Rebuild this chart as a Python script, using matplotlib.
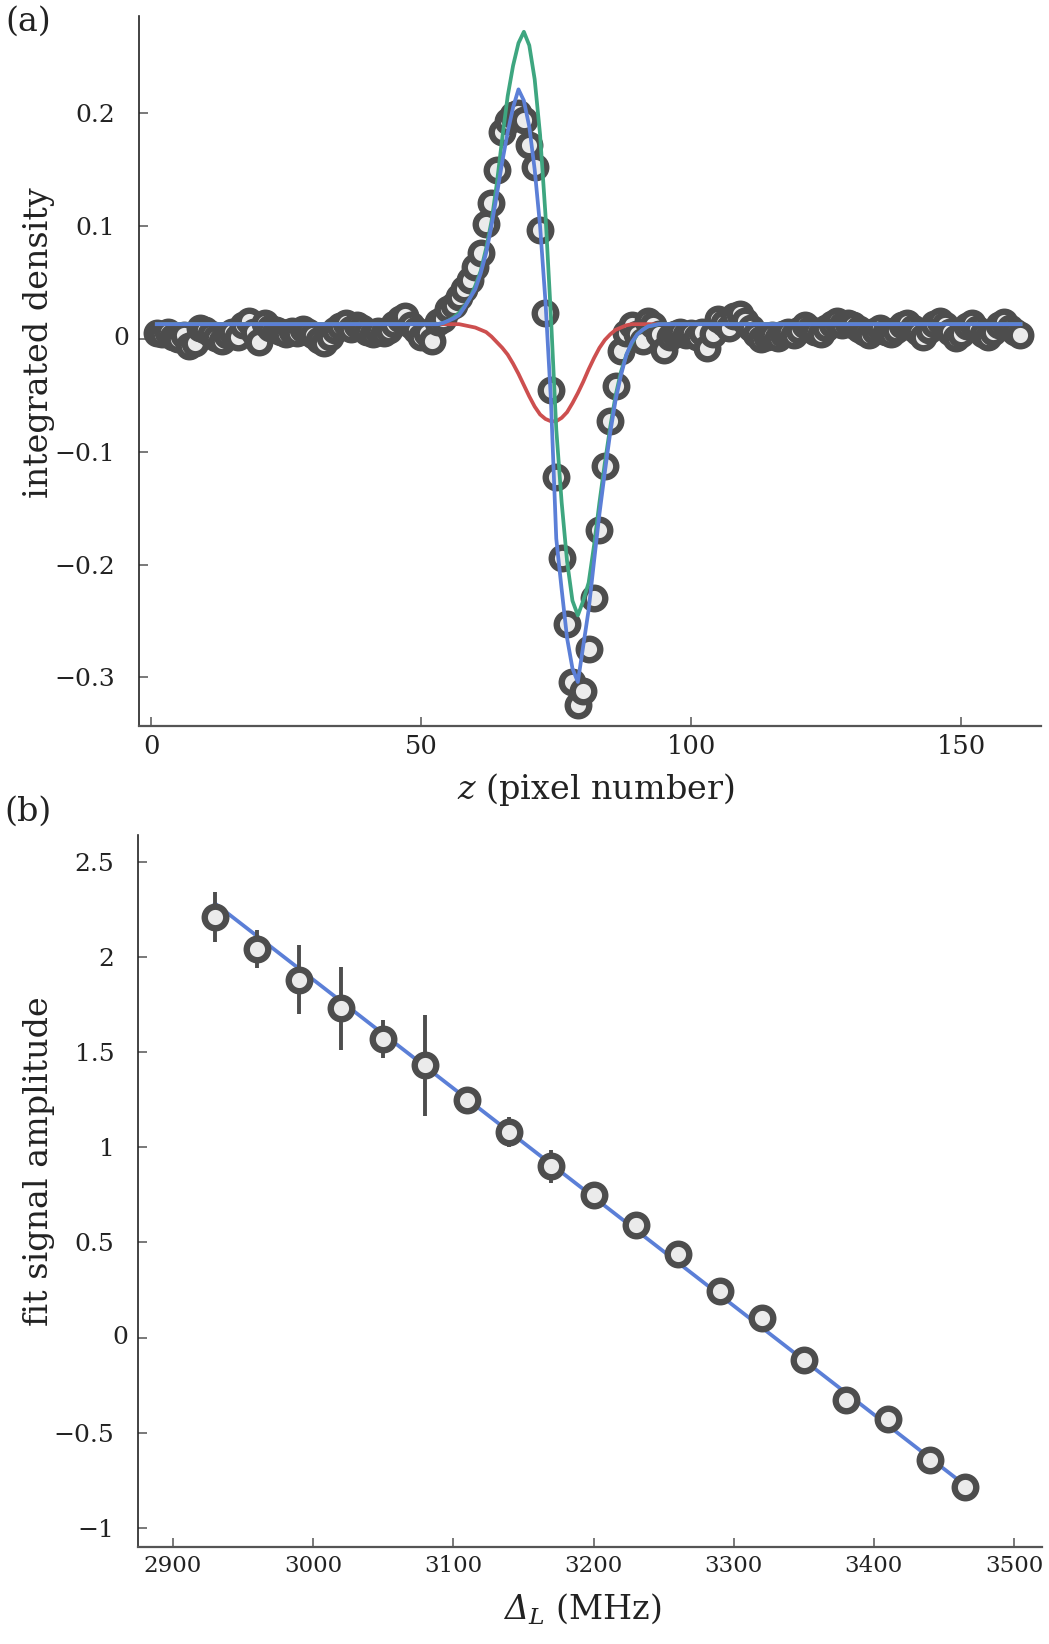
import numpy as np
import matplotlib
matplotlib.use("Agg")
import matplotlib.pyplot as plt
from matplotlib.ticker import FixedLocator, FuncFormatter

plt.rcParams['font.family'] = 'DejaVu Serif'
# italic serif for the math labels (Greek capitals go to 'rm', so make it italic too)
plt.rcParams['mathtext.fontset'] = 'custom'
plt.rcParams['mathtext.rm'] = 'DejaVu Serif:italic'
plt.rcParams['mathtext.it'] = 'DejaVu Serif:italic'

# ---- panel (a): integrated density vs pixel ----
z_pixel = np.arange(1, 162)
density = [
    0.005, 0.004, 0.006, 0.002, 0.000, 0.003, -0.006, -0.004, 0.010, 0.008,
    0.004, 0.001, -0.002, 0.003, 0.006, 0.002, 0.012, 0.016, 0.006, -0.003,
    0.014, 0.010, 0.008, 0.006, 0.004, 0.007, 0.005, 0.009, 0.006, 0.003,
    -0.001, -0.004, 0.002, 0.008, 0.011, 0.014, 0.009, 0.012, 0.010, 0.006,
    0.004, 0.007, 0.005, 0.008, 0.013, 0.018, 0.020, 0.012, 0.008, 0.002,
    0.005, -0.002, 0.015, 0.018, 0.026, 0.030, 0.037, 0.044, 0.052, 0.064,
    0.076, 0.102, 0.120, 0.150, 0.183, 0.193, 0.198, 0.200, 0.194, 0.172,
    0.152, 0.096, 0.023, -0.045, -0.122, -0.194, -0.253, -0.304, -0.324, -0.312,
    -0.275, -0.230, -0.169, -0.113, -0.073, -0.042, -0.011, 0.005, 0.012, 0.004,
    -0.002, 0.016, 0.012, 0.004, -0.010, 0.002, 0.004, 0.006, 0.003, 0.005,
    0.002, 0.006, -0.008, 0.004, 0.018, 0.014, 0.010, 0.020, 0.022, 0.016,
    0.010, 0.004, 0.000, 0.002, 0.003, 0.001, 0.004, 0.006, 0.003, 0.008,
    0.012, 0.009, 0.006, 0.004, 0.010, 0.013, 0.016, 0.012, 0.014, 0.012,
    0.009, 0.006, 0.003, 0.007, 0.010, 0.006, 0.004, 0.008, 0.012, 0.014,
    0.010, 0.006, 0.002, 0.008, 0.013, 0.016, 0.012, 0.006, 0.001, 0.004,
    0.011, 0.014, 0.009, 0.004, 0.002, 0.006, 0.012, 0.015, 0.010, 0.006, 0.003,
]

# fit curves: flat baseline outside z = 50..95
curve_z_start, curve_z_end = 1, 161
baseline = 0.013
curve_z = np.arange(50, 96)
fit_red = [
    0.013, 0.013, 0.013, 0.013, 0.013, 0.013, 0.013, 0.013, 0.012, 0.011,
    0.010, 0.008, 0.006, 0.002, -0.003, -0.008, -0.014, -0.022, -0.031, -0.041,
    -0.051, -0.060, -0.067, -0.071, -0.073, -0.073, -0.070, -0.065, -0.057, -0.048,
    -0.038, -0.027, -0.017, -0.008, -0.001, 0.004, 0.008, 0.010, 0.012, 0.013,
    0.013, 0.013, 0.013, 0.013, 0.013, 0.013,
]
fit_green = [
    0.013, 0.013, 0.013, 0.013, 0.014, 0.016, 0.019, 0.023, 0.029, 0.036,
    0.047, 0.060, 0.080, 0.104, 0.138, 0.178, 0.215, 0.242, 0.262, 0.272,
    0.260, 0.230, 0.181, 0.110, 0.021, -0.080, -0.145, -0.197, -0.232, -0.245,
    -0.232, -0.216, -0.183, -0.145, -0.110, -0.078, -0.050, -0.029, -0.014, -0.004,
    0.004, 0.008, 0.011, 0.012, 0.013, 0.013,
]
fit_blue = [
    0.013, 0.013, 0.013, 0.013, 0.014, 0.016, 0.018, 0.021, 0.028, 0.036,
    0.044, 0.058, 0.076, 0.100, 0.128, 0.157, 0.183, 0.205, 0.221, 0.211,
    0.188, 0.150, 0.100, 0.033, -0.053, -0.177, -0.222, -0.265, -0.292, -0.304,
    -0.272, -0.240, -0.197, -0.155, -0.118, -0.083, -0.054, -0.032, -0.014, -0.003,
    0.004, 0.008, 0.011, 0.012, 0.013, 0.013,
]

# ---- panel (b): fit amplitude vs detuning ----
detuning = [2930, 2960, 2990, 3020, 3050, 3080, 3110, 3140, 3170, 3200,
            3230, 3260, 3290, 3320, 3350, 3380, 3410, 3440, 3465]
amplitude = [2.21, 2.04, 1.88, 1.73, 1.57, 1.43, 1.25, 1.08, 0.90, 0.748,
             0.59, 0.44, 0.246, 0.104, -0.118, -0.33, -0.426, -0.645, -0.784]
amp_err = [0.13, 0.10, 0.18, 0.217, 0.10, 0.265, 0.03, 0.079, 0.086, 0.03,
           0.03, 0.03, 0.03, 0.03, 0.03, 0.03, 0.03, 0.03, 0.03]
line_x = [2930, 3465]
line_y = [2.28, -0.775]

c_red = '#cd4f4f'
c_green = '#3ea680'
c_blue = '#5b7fd7'
c_edge = '#4d4d4d'
c_face = '#ebebeb'
mk = dict(ms=15.5, mew=4.6, mec=c_edge, mfc=c_face)


def full_curve(vals):
    x = [curve_z_start] + list(curve_z) + [curve_z_end]
    y = [baseline] + list(vals) + [baseline]
    return x, y


def fmt(v, pos):
    if abs(v) < 1e-9:
        return ''
    return ('%g' % v).replace('-', '\u2212')


def style_axes(ax):
    for s in ['top', 'right']:
        ax.spines[s].set_visible(False)
    ax.spines['left'].set_color('#222222')
    ax.spines['left'].set_linewidth(1.2)
    ax.spines['bottom'].set_color('#555555')
    ax.spines['bottom'].set_linewidth(1.6)
    ax.tick_params(direction='in', length=6.5, width=1.1, color='#555555',
                   labelcolor='#222222')


W, H = 1049, 1644
fig = plt.figure(figsize=(W / 100, H / 100), dpi=100)

# panel (a)
ax1 = fig.add_axes([139 / W, 1 - 726 / H, 902 / W, 710 / H])
ax1.plot(z_pixel, density, 'o', zorder=2, **mk)
for vals, col in [(fit_red, c_red), (fit_green, c_green), (fit_blue, c_blue)]:
    cx, cy = full_curve(vals)
    ax1.plot(cx, cy, color=col, lw=2.7, zorder=3)
ax1.set_xlim(-2.3, 164.8)
ax1.set_ylim(-0.343, 0.286)
ax1.xaxis.set_major_locator(FixedLocator([0, 50, 100, 150]))
ax1.yaxis.set_major_locator(FixedLocator([-0.3, -0.2, -0.1, 0, 0.1, 0.2]))
ax1.yaxis.set_major_formatter(FuncFormatter(fmt))
style_axes(ax1)
ax1.tick_params(axis='y', labelsize=18, pad=17)
ax1.tick_params(axis='x', labelsize=18.5, pad=6)
ax1.text(-10 / 902, 0, '0', transform=ax1.get_yaxis_transform(),
         ha='right', va='center', fontsize=18, color='#222222')

# panel (b)
ax2 = fig.add_axes([138 / W, 1 - 1547 / H, 904 / W, 712 / H])
ax2.plot(line_x, line_y, color=c_blue, lw=2.7, zorder=2)
ax2.errorbar(detuning, amplitude, yerr=amp_err, fmt='none', ecolor=c_edge,
             elinewidth=2.8, capsize=0, zorder=3)
ax2.plot(detuning, amplitude, 'o', zorder=4, **mk)
ax2.set_xlim(2875, 3520)
ax2.set_ylim(-1.10, 2.64)
ax2.xaxis.set_major_locator(FixedLocator([2900, 3000, 3100, 3200, 3300, 3400, 3500]))
ax2.yaxis.set_major_locator(FixedLocator([-1, -0.5, 0, 0.5, 1, 1.5, 2, 2.5]))
ax2.yaxis.set_major_formatter(FuncFormatter(fmt))
style_axes(ax2)
ax2.tick_params(axis='y', labelsize=18, pad=17)
ax2.tick_params(axis='x', labelsize=16.5, pad=6)
ax2.text(-10 / 904, 0, '0', transform=ax2.get_yaxis_transform(),
         ha='right', va='center', fontsize=18, color='#222222')

# labels
fig.text(28 / W, 1 - 22 / H, '(a)', fontsize=24, ha='center', va='center', color='#222222')
fig.text(28 / W, 1 - 812 / H, '(b)', fontsize=24, ha='center', va='center', color='#222222')
fig.text(39 / W, 1 - 343 / H, 'integrated density', fontsize=24, rotation=90,
         ha='center', va='center', color='#222222')
fig.text(39 / W, 1 - 1161 / H, 'fit signal amplitude', fontsize=24, rotation=90,
         ha='center', va='center', color='#222222')
fig.text(596 / W, 1 - 789 / H, r'$z$ (pixel number)', fontsize=24,
         ha='center', va='center', color='#222222')
fig.text(582 / W, 1 - 1609 / H, r'$Δ_{L}$ (MHz)', fontsize=24,
         ha='center', va='center', color='#222222')

fig.savefig('out.png', dpi=100)
